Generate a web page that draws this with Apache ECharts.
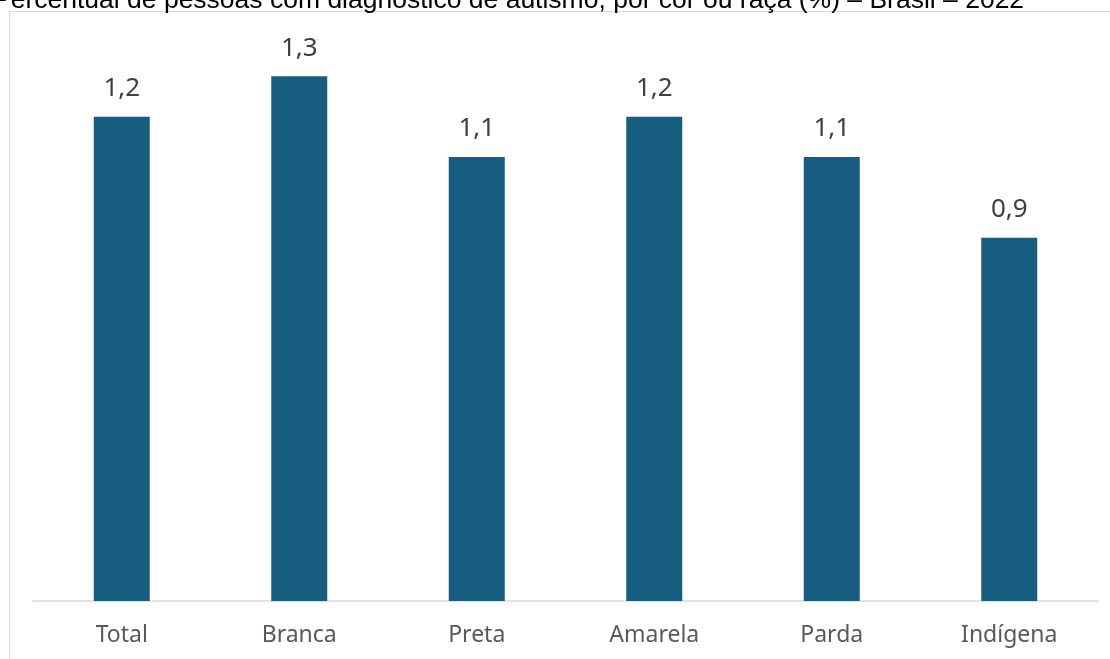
<!DOCTYPE html>
<html>
<head>
<meta charset="utf-8">
<script src="https://cdn.jsdelivr.net/npm/echarts@6/dist/echarts.min.js"></script>
<style>
  html, body { margin: 0; padding: 0; background: #fff; }
  #chart { width: 1110px; height: 659px; }
</style>
</head>
<body>
<div id="chart"></div>
<script>
// Percentual de pessoas com diagnóstico de autismo, por cor ou raça
const titleText = 'Percentual de pessoas com diagnóstico de autismo, por cor ou raça (%) – Brasil – 2022';
const categories = ['Total', 'Branca', 'Preta', 'Amarela', 'Parda', 'Indígena'];
const values = [1.2, 1.3, 1.1, 1.2, 1.1, 0.9];

const chart = echarts.init(document.getElementById('chart'), null, { renderer: 'canvas' });

chart.setOption({
  animation: false,
  backgroundColor: '#ffffff',
  graphic: [
    {
      type: 'rect',
      shape: { x: 9.5, y: 11.5, width: 1200, height: 700 },
      style: { fill: 'none', stroke: '#d9d9d9', lineWidth: 1 },
      z: -1
    },
    {
      type: 'text',
      left: -7,
      top: -13,
      style: {
        text: titleText,
        font: '26.5px "Liberation Sans", Arial, sans-serif',
        fill: '#000000'
      }
    }
  ],
  grid: { left: 33, right: 12, top: 36, bottom: 58, containLabel: false },
  xAxis: {
    type: 'category',
    data: categories,
    axisLine: { lineStyle: { color: '#d9d9d9', width: 1.5 } },
    axisTick: { show: false },
    axisLabel: {
      color: '#595959',
      fontFamily: '"Noto Sans", sans-serif',
      fontSize: 23,
      margin: 23
    }
  },
  yAxis: {
    type: 'value',
    min: 0,
    max: 1.4,
    show: false,
    splitLine: { show: false }
  },
  series: [{
    type: 'bar',
    data: values,
    barWidth: 56,
    itemStyle: { color: '#175d7f' },
    label: {
      show: true,
      position: 'top',
      distance: 15,
      color: '#404040',
      fontFamily: '"Noto Sans", sans-serif',
      fontSize: 26,
      formatter: p => p.value.toFixed(1).replace('.', ',')
    }
  }]
});
</script>
</body>
</html>
